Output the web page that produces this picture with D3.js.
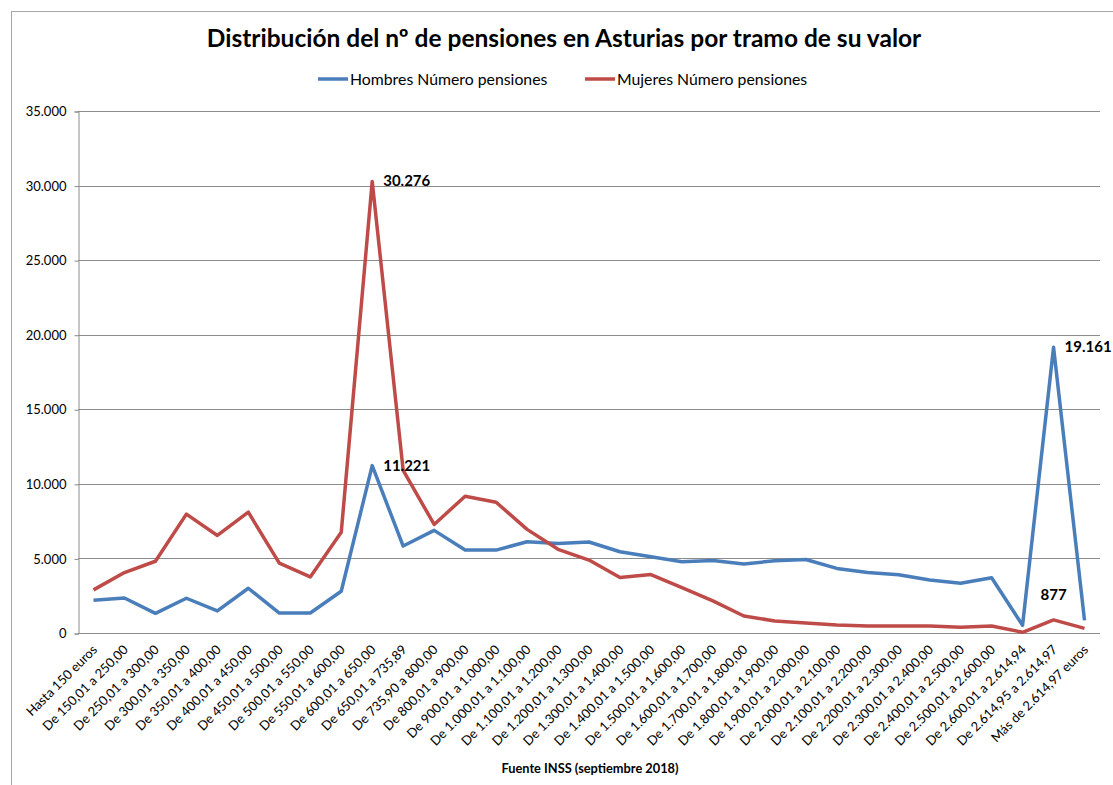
<!DOCTYPE html>
<html>
<head>
<meta charset="utf-8">
<script src="https://cdn.jsdelivr.net/npm/d3@7"></script>
<style>
  body { margin: 0; background: #fff; }
  svg { font-family: Lato, "Open Sans", sans-serif; }
</style>
</head>
<body>
<svg id="chart" width="1113" height="785"></svg>
<script>
var tramos = [
	'Hasta 150 euros', 'De 150,01 a 250,00', 'De 250,01 a 300,00', 'De 300,01 a 350,00',
	'De 350,01 a 400,00', 'De 400,01 a 450,00', 'De 450,01 a 500,00', 'De 500,01 a 550,00',
	'De 550,01 a 600,00', 'De 600,01 a 650,00', 'De 650,01 a 735,89', 'De 735,90 a 800,00',
	'De 800,01 a 900,00', 'De 900,01 a 1.000,00', 'De 1.000,01 a 1.100,00', 'De 1.100,01 a 1.200,00',
	'De 1.200,01 a 1.300,00', 'De 1.300,01 a 1.400,00', 'De 1.400,01 a 1.500,00', 'De 1.500,01 a 1.600,00',
	'De 1.600,01 a 1.700,00', 'De 1.700,01 a 1.800,00', 'De 1.800,01 a 1.900,00', 'De 1.900,01 a 2.000,00',
	'De 2.000,01 a 2.100,00', 'De 2.100,01 a 2.200,00', 'De 2.200,01 a 2.300,00', 'De 2.300,01 a 2.400,00',
	'De 2.400,01 a 2.500,00', 'De 2.500,01 a 2.600,00', 'De 2.600,01 a 2.614,94', 'De 2.614,95 a 2.614,97',
	'Más de 2.614,97 euros'
];

var hombres = [2200, 2350, 1320, 2330, 1480, 3000, 1340, 1340, 2800, 11221, 5830, 6880,
	5560, 5560, 6120, 6000, 6100, 5450, 5110, 4780, 4860, 4630, 4840, 4930,
	4330, 4060, 3900, 3550, 3330, 3700, 520, 19161, 850];

var mujeres = [2890, 4050, 4810, 7970, 6540, 8100, 4680, 3760, 6750, 30276, 10900, 7280,
	9170, 8770, 6950, 5610, 4890, 3720, 3920, 3050, 2150, 1140, 810, 670,
	540, 470, 470, 470, 380, 470, 50, 877, 310];

var yTicks = [0, 5000, 10000, 15000, 20000, 25000, 30000, 35000];

// puntos con etiqueta de valor: [serie, indice, posicion]
var etiquetas = [
	['mujeres', 9, 'right'],
	['hombres', 9, 'right'],
	['hombres', 31, 'right'],
	['mujeres', 31, 'above']
];

var series = [
	{ key: 'hombres', name: 'Hombres Número pensiones', color: '#4a7ebb', values: hombres },
	{ key: 'mujeres', name: 'Mujeres Número pensiones', color: '#be4b48', values: mujeres }
];

var fmt = function(v) {
	return d3.format(',')(v).replace(/,/g, '.');
};

var svg = d3.select('#chart');

svg.append('rect')
	.attr('x', 11.5).attr('y', 11.5)
	.attr('width', 1120).attr('height', 800)
	.attr('fill', 'none')
	.attr('stroke', '#a6a6a6');

var plotLeft = 78, plotRight = 1100, plotTop = 111, plotBottom = 633;

var x = d3.scalePoint().domain(tramos).range([plotLeft, plotRight]).padding(0.5);
var y = d3.scaleLinear().domain([0, 35000]).range([plotBottom, plotTop]);

// lineas de la rejilla
svg.append('g')
	.selectAll('line')
	.data(yTicks)
	.enter()
	.append('line')
	.attr('x1', plotLeft).attr('x2', plotRight)
	.attr('y1', function(d) { return Math.round(y(d)) + 0.5; })
	.attr('y2', function(d) { return Math.round(y(d)) + 0.5; })
	.attr('stroke', '#8c8c8c')
	.attr('stroke-width', 1);

var yAxis = svg.append('g')
	.attr('transform', 'translate(' + (plotLeft + 0.5) + ',0.5)')
	.call(d3.axisLeft(y).tickValues(yTicks).tickSize(4).tickPadding(8).tickFormat(fmt));
yAxis.select('.domain').attr('stroke', '#8c8c8c');
yAxis.selectAll('.tick line').attr('stroke', '#8c8c8c');
yAxis.selectAll('text')
	.attr('font-size', '13px')
	.attr('font-family', 'Lato, sans-serif')
	.attr('fill', '#000');

var xAxis = svg.append('g')
	.attr('transform', 'translate(0,' + (plotBottom + 0.5) + ')')
	.call(d3.axisBottom(x).tickSize(0).tickPadding(0));
xAxis.select('.domain').remove();
xAxis.selectAll('text')
	.attr('font-size', '13px')
	.attr('font-family', 'Lato, sans-serif')
	.attr('fill', '#000')
	.attr('text-anchor', 'end')
	.attr('dy', null)
	.attr('transform', 'translate(4,17) rotate(-45)');

var line = d3.line()
	.x(function(d, i) { return x(tramos[i]); })
	.y(function(d) { return y(d); });

svg.append('g')
	.selectAll('path')
	.data(series)
	.enter()
	.append('path')
	.attr('d', function(d) { return line(d.values); })
	.attr('fill', 'none')
	.attr('stroke', function(d) { return d.color; })
	.attr('stroke-width', 3.5)
	.attr('stroke-linejoin', 'round');

var byKey = {};
series.forEach(function(s) { byKey[s.key] = s; });

svg.append('g')
	.selectAll('text')
	.data(etiquetas)
	.enter()
	.append('text')
	.attr('x', function(d) {
		var px = x(tramos[d[1]]);
		return d[2] === 'right' ? px + 11 : px;
	})
	.attr('y', function(d) {
		var py = y(byKey[d[0]].values[d[1]]);
		return d[2] === 'right' ? py + 5 : py - 20;
	})
	.attr('text-anchor', function(d) { return d[2] === 'right' ? 'start' : 'middle'; })
	.attr('font-size', '15px')
	.attr('font-weight', 'bold')
	.attr('fill', '#000')
	.text(function(d) { return fmt(byKey[d[0]].values[d[1]]); });

svg.append('text')
	.attr('x', 564).attr('y', 47)
	.attr('text-anchor', 'middle')
	.attr('font-size', '24.5px')
	.attr('font-weight', 'bold')
	.attr('fill', '#000')
	.text('Distribución del nº de pensiones en Asturias por tramo de su valor');

// leyenda
var legendX = [318, 585];
var legend = svg.append('g')
	.selectAll('g')
	.data(series)
	.enter()
	.append('g')
	.attr('transform', function(d, i) { return 'translate(' + legendX[i] + ',79)'; });
legend.append('line')
	.attr('x1', 0).attr('x2', 30)
	.attr('stroke', function(d) { return d.color; })
	.attr('stroke-width', 3.5);
legend.append('text')
	.attr('x', 32).attr('y', 5.5)
	.attr('font-size', '15.8px')
	.attr('fill', '#000')
	.text(function(d) { return d.name; });

svg.append('text')
	.attr('x', 590).attr('y', 773)
	.attr('text-anchor', 'middle')
	.attr('font-size', '12.8px')
	.attr('font-weight', 'bold')
	.attr('fill', '#000')
	.text('Fuente INSS (septiembre 2018)');
</script>
</body>
</html>
